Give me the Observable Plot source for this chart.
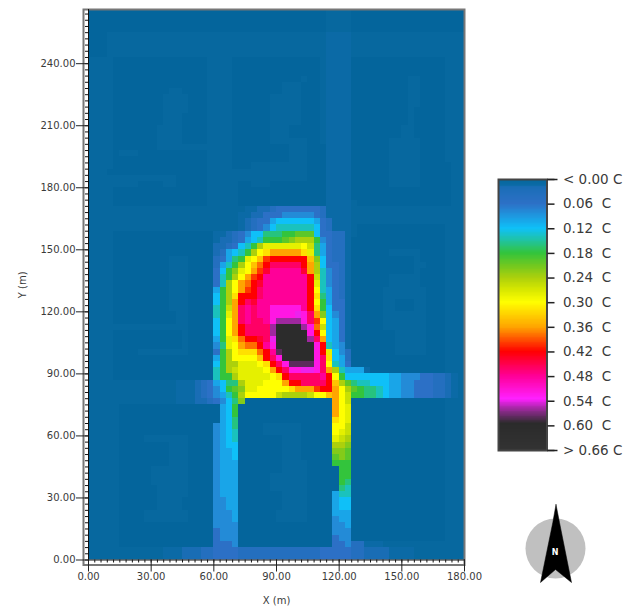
<!DOCTYPE html>
<html>
<head>
<meta charset="utf-8">
<script src="https://cdn.jsdelivr.net/npm/d3@7"></script>
<script src="https://cdn.jsdelivr.net/npm/@observablehq/plot@0.6"></script>
<style>
html,body{margin:0;padding:0;background:#fff}
#chart{position:relative;width:627px;height:609px;overflow:hidden}
#chart svg{position:absolute;background:transparent}
#chart svg text{white-space:pre}
</style>
</head>
<body>
<div id="chart"></div>
<script>
// Cell codes: "." and "," and ":" are the faint background levels; 0-9 a-v are multiples of 0.02 C.
const faintCodes = [".", ",", ":"];
const faintValues = [0, 0.007, 0.014];
const digitCodes = "0123456789abcdefghijklmnopqrstuv";
const digitStep = 0.02;

// One string per row of 3 m cells, north (top) to south, 60 columns of 3 m, grouped by ten.
const gridRows = [
".......... .......... .......... ........,, ,,........ ..........",
".......... .......... .......... ........,, ,,........ ..........",
".......... .......... .......... ........,, ,,........ ..........",
".......... .......... .......... ........,, ,,........ ..........",
"...,,,,,,, ,,,,,,,,,, ,,,,,,,,,, ,,,,,,,,:: ::,,,,,,,, ,,,,,,,,,,",
"...,,,,,,, ,,,,,,,,,, ,,,,,,,,,, ,,,,,,,,:: ::,,,,,,,, ,,,,,,,,,,",
"...,,,,,,, ,,,,,,,,,, ,,,,,,,,,, ,,,,,,,,:: ::,,,,,,,, ,,,,,,,,,,",
"...,,,,,,, ,,,,,,,,,, ,,,,,,,,,, ,,,,,,,,:: ::,,,,,,,, ,,,,,,,,,,",
",,,,...... ........., ,,,....... .......,:: ::........ .......,,,",
",,,,...... ........., ,,,....... .......,:: ::........ .......,,,",
",,,,...... ........., ,,,....... .......,:: ::........ .......,,,",
",,,,...... ........., ,,,....... ....,..,:: ::........ .,,....,,,",
",,,,...... ........., ,,,....... .,,,...,:: ::........ .,,....,,,",
",,,,...... ...,,...., ,,,....... .,,,...,:: ::........ .,,....,,,",
",,,,...... ..,,,,..., ,,,......, ,,,,...,:: ::........ .,,....,,,",
",,,,...... ..,,,,..., ,,,......, ,,,,...,:: ::........ .,,....,,,",
",,,,...... ..,,,,..., ,,,......, ,,,,...,:: ::........ .,.....,,,",
",,,,...... ..,,,...., ,,,......, ,,,,...,:: ::........ .,.....,,,",
",,,,...... ..,,,...., ,,,......, ,,,,...,:: ::........ .,.....,,,",
",,,,...... .,,,,...., ,,,......, ,,.....,:: ::........ ,,.....,,,",
",,,,...... .,,,,...., ,,,......, ,,.....,:: ::........ ,,.....,,,",
",,,,...... .,,,,...., ,,,......, ,,,,,..,:: ::......,, ,,,....,,,",
",,,,...... .,,,,,,,,, ,,,....... ..,,,...:: ::......,, ,,,....,,,",
",,,,.,,,.. ........., ,,,....... ..,,,...:: ::......,, ,,,....,,,",
",,,,...... ........., ,,,....... ..,,,...:: ::......,, ,,,....,,,",
",,,,...... ........., ,,,...,,,, ,,,,,...:: ::......,, ,,,.....,,",
",,,....... ........., ,,,,,,,,,, ,,,,,...:: ::......,, ,,,.....,,",
",,,,,,,,,, ,,,,....., ,,,,,,,,,, ,,,,,...:: ::......,, ,,,.....,,",
",,,,,,,,.. ..,,....., ,,,,..,,,. ........:: ::......,, ,,,.....,,",
",,,,...... ........., ,,,,...... ........:: ::........ ........,,",
",,,,...... ........., ,,,,...... ........:: ::........ ........,,",
",,,,...... ........., ,,,,...... ........:: ::,....... ........,,",
",,,,,,,,,, ,,,,,,,,,, ,,,,,::112 33333332:: ::,,,,,,,, ,,,,,,,,,,",
",,,,,,,,,, ,,,,,,,,,, ,,,,::1133 34444432:: ::,,,,,,,, ,,,,,,,,,,",
",,,,,,,,,, ,,,,,,,,,, ,,,,:12335 666666532: ::,,,,,,,, ,,,,,,,,,,",
",,,,,,,,,, ,,,,,,,,,, ,,,,:12346 777777632: ::,....... .......,,,",
",,,,...... .......... ::12346688 899aaa6332 2:,....... .......,,,",
",,,,...... .......... :112356799 9abccc9432 2:........ .......,,,",
",,,,...... .......... 1123679cee eeeefd8532 2:........ .......,,,",
",,,,...... .......... 125679cfgi iiiige8532 2:......,, ,,,....,,,",
",,,,...... ...,,,.... 23589efhkl lllllhb632 2:........ ..,....,,,",
",,,,...... ...,,,.... 2579cfhjln nnnnlic633 2:........ ..,,...,,,",
",,,,...... ...,,,.... 369befikmo oooomic743 2:........ ..,....,,,",
",,,,...... ...,,,.... 379cfikloo ooooold743 2:......,, ,,,....,,,",
",,,,...... ...,,,.... 37cfijlmoo ooooole743 2:......,, ,,,....,,,",
",,,,...... ...,,,.... 59cfiklnoo ooooolf753 2:.....,,, ,,,,...,,,",
",,,,...... ...,,,.... 69cglllnoo ooooolg853 2:.....,,, ,,,,...,,,",
",,,,...... ...,,,.... 69cilnmooo ooooolf953 3:.....,,. ..,,...,,,",
",,,,...... ...,,,.... 79dinonooq qqqqolg963 3:.....,,. ..,,...,,,",
",,,,...... ....,,.... 79einonooq qqqrqnib64 3:.....,,, ,,,,...,,,",
",,,,...... ....,,.... 69finonnoq ssssqnkf65 3:.....,,, ,,,,...,,,",
",,,,,,,,,, ,,,,,,.... 69filnnnns uuuusqjd65 3:.....,,, ,,,,...,,,",
",,,,...... .....,.... 69filnnnns uuuuuqlf65 3:......., ,,,,...,,,",
",,,,...... .....,.... 59egjllmnr uuuuusni65 3:......., ,,,,...,,,",
",,,,...... .....,.... 48efijjloq uuuuuuql75 4:......., ,,,,...,,,",
",,,,....,, ,,,,,,.... 39cfgggjlo tuuuuuqle6 42......., ,,,,...,,,",
",,,,...... .......... 59cffffhln quuuuuqng6 52........ .......,,,",
",,,,...... .......... 69cceeefgl nqttttqnf7 53........ .......,,,",
",,,,...... .......... 79cdeeeefi lnqqrrqnic 7555:..... .......,,,",
",,,,...... .......... 799ceeeeef glnnnnnolf 9666666655 44433221:,",
",,,,,,,,,, ,,,,:::123 5688ceeeff fillnnnnlh ca87766655 44333221:,",
",,,,,,,,,, ,,,,:::123 469abeefff ffgiiiklli fca9887655 44333221:,",
",,,,,,,,,, ,,,,:::123 4579cfffff dccccdffhi fd99887655 44333221:,",
",,,,,,,,,, ,,,,:::112 3468b..... .........i fd........ .......,,,",
",,,,,..... .......... .569...... .........i fe........ .......,,,",
",,,,,..... .......... .569...... .........i fe........ .......,,,",
",,,,,..... .......... .568...... .........g fe........ .......,,,",
",,,,,..... .......... 4568....,, ,,,,.....f fd........ .......,,,",
",,,,,..... .......... 4567....,, ,,,,.....f ed........ .......,,,",
",,,,,...., ,,,,,,.... 4567...... .,,,.....e dc........ .......,,,",
",,,,,..... ...,,,.... 4566...... .,,,.....c cb........ .......,,,",
",,,,,..... ...,,,.... 4556...... .,,,.....b ba........ .......,,,",
",,,,,..... ...,,,.... 4556...... .,,,.....a ba........ .......,,,",
",,,,,..... ...,,,.... 4555...... .,,,,....9 99........ .......,,,",
",,,,,..... ,,,,,,.... 4555...... .,,,,..... 99........ .......,,,",
",,,,,..... ,,,,,,.... 4555....., ,,,,,..... 99........ .......,,,",
",,,,,..... ,,,,,,.... 4555....., ,,,,,..... 98........ .......,,,",
",,,,,..... .,,,,,.... 4555....., ,,,,,..... 87........ .......,,,",
",,,,,..... .,,,,,.... 4555...... .,,,,....5 77........ .......,,,",
",,,,,..... .,,,,..... 4455...... .,,,,....5 66........ .......,,,",
",,,,,..... .,,,,..... 4455...... .,,,,....5 66........ .......,,,",
",,,,,...., ,,,,,,.... 4445...... ,,,,,....5 55........ .......,,,",
",,,,,...., ,,,,,,.... 4445...... ,,,,,....4 55........ .......,,,",
",,,,,..... .......... 4444...... .........4 45........ .......,,,",
",,,,,..... .......... 3444...... .........4 44........ .......,,,",
",,,,,..... .......... 3444...... .........3 44........ .......,,,",
",,,,,..... .......... 3334...... .........3 3422:::,,, ,,,,,,,,,,",
",,,,,,,,,, ,,:::11122 3333222222 2222222333 33221111:: ::,,,,,,,,",
",,,,,,,,,, ,,:::11122 3333222222 2222222333 33221111:: ::,,,,,,,,"
];

const xMajor = [0, 30, 60, 90, 120, 150, 180];
const yMajor = [0, 30, 60, 90, 120, 150, 180, 210, 240];
const xMinorCount = 60;
const yMinorCount = 88;
const cellSize = 3;
const yTop = 266.2;

const colorStops = [0, 0.007, 0.014, 0.02, 0.04, 0.06, 0.09, 0.12, 0.15, 0.18, 0.21, 0.24, 0.27, 0.30, 0.33, 0.36, 0.42, 0.48, 0.535, 0.565, 0.595, 0.66];
const colorRange = ["#04659c", "#07689f", "#0b6aa6", "#196db5", "#246fbf", "#2c70c6", "#1e98e0", "#0fc0f8", "#20c3a0", "#33c43c", "#70c820", "#acd00c", "#d8e800", "#ffff00", "#ffd000", "#ffa500", "#ff0000", "#ff0098", "#ff20ff", "#8b2a8b", "#2b2b2b", "#333333"];

const legendTicks = [0, 0.06, 0.12, 0.18, 0.24, 0.30, 0.36, 0.42, 0.48, 0.54, 0.60, 0.66];
const legendLabels = ["< 0.00 C", "0.06  C", "0.12  C", "0.18  C", "0.24  C", "0.30  C", "0.36  C", "0.42  C", "0.48  C", "0.54  C", "0.60  C", "> 0.66 C"];
const legendEnds = [0, 0.66];
const legendStep = 0.002;

const northCircle = [{x: 45, y: 58}];
const northArrow = [[45.5, 14], [49, 32], [61, 92], [45, 79], [30, 92], [42.3, 32], [45.5, 14]];
const northLabel = [{x: 44.5, y: 62, t: "N"}];

function codeValue(ch) {
  const f = faintCodes.indexOf(ch);
  return f >= 0 ? faintValues[f] : digitCodes.indexOf(ch) * digitStep;
}

const cells = [];
gridRows.forEach((row, t) => {
  const chars = row.replace(/ /g, "");
  const south = (gridRows.length - 1 - t) * cellSize;
  for (let c = 0; c < xMinorCount; c++) {
    const ch = chars[c] === undefined ? "." : chars[c];
    cells.push({x1: c * cellSize, x2: (c + 1) * cellSize, y1: south, y2: south + cellSize, v: codeValue(ch)});
  }
});

const colorScale = {type: "linear", domain: colorStops, range: colorRange, interpolate: "rgb", clamp: true};
const fmt = d => d.toFixed(2);
const fontStyle = {fontFamily: "'DejaVu Sans', sans-serif", fontSize: "10px", color: "#3a3a3a", background: "transparent", overflow: "visible"};

const main = Plot.plot({
  width: 627, height: 609,
  marginLeft: 88, marginRight: 163, marginTop: 9, marginBottom: 49.5,
  x: {domain: [0, 180]},
  y: {domain: [0, yTop]},
  color: colorScale,
  style: fontStyle,
  marks: [
    Plot.rect(cells, {x1: "x1", x2: "x2", y1: "y1", y2: "y2", fill: "v", clip: true, shapeRendering: "crispEdges"}),
    Plot.frame({stroke: "#777", strokeWidth: 2, insetLeft: -5, insetBottom: -5}),
    Plot.axisX({ticks: d3.range(0, xMinorCount + 1).map(i => i * cellSize), tickSize: 3, text: null, label: null, stroke: "#111"}),
    Plot.axisY({ticks: d3.range(0, yMinorCount + 1).map(i => i * cellSize), tickSize: 3, text: null, label: null, stroke: "#111"}),
    Plot.axisX({ticks: xMajor, tickSize: 12, tickPadding: 1, tickFormat: fmt, label: "X (m)", labelAnchor: "center", labelOffset: 44, labelArrow: "none", stroke: "#222"}),
    Plot.axisY({ticks: yMajor, tickSize: 12, tickPadding: 1, tickFormat: fmt, label: "Y (m)", labelAnchor: "center", labelOffset: 70, labelArrow: "none", stroke: "#222"}),
    Plot.ruleX([0], {stroke: "#111"}),
    Plot.ruleY([0], {stroke: "#111"})
  ]
});
main.style.left = "0px";
main.style.top = "0px";

const legend = Plot.plot({
  width: 137, height: 290,
  marginLeft: 8, marginRight: 80.5, marginTop: 9, marginBottom: 10,
  x: {domain: [0, 1], axis: null},
  y: {domain: [0, 0.66], reverse: true},
  color: colorScale,
  style: {...fontStyle, fontSize: "13.5px"},
  marks: [
    Plot.rect(d3.range(0, Math.round(legendEnds[1] / legendStep)).map(i => i * legendStep), {
      x1: () => 0, x2: () => 1, y1: d => d, y2: d => d + legendStep, fill: d => d + legendStep / 2, shapeRendering: "crispEdges"
    }),
    Plot.frame({stroke: "#444", strokeWidth: 2}),
    Plot.axisY({anchor: "right", ticks: legendTicks, tickSize: 7, tickPadding: 9, tickFormat: (d, i) => legendLabels[i], label: null, stroke: "#222", strokeWidth: 1.5}),
    Plot.axisY({anchor: "right", ticks: legendEnds, tickSize: 10, text: null, label: null, stroke: "#222", strokeWidth: 1.5})
  ]
});
legend.style.left = "490px";
legend.style.top = "170px";

const north = Plot.plot({
  width: 90, height: 100,
  margin: 0,
  x: {domain: [0, 90], axis: null},
  y: {domain: [0, 100], reverse: true, axis: null},
  style: {...fontStyle, fontSize: "8px"},
  marks: [
    Plot.dot(northCircle, {x: "x", y: "y", r: 30, fill: "#c0c0c0"}),
    Plot.line(northArrow, {x: d => d[0], y: d => d[1], fill: "black", stroke: "black", strokeWidth: 0.5}),
    Plot.text(northLabel, {x: "x", y: "y", text: "t", fill: "white", fontWeight: "bold", fontSize: 8})
  ]
});
north.style.left = "510px";
north.style.top = "490px";

const host = document.getElementById("chart");
host.append(main, legend, north);
</script>
</body>
</html>
